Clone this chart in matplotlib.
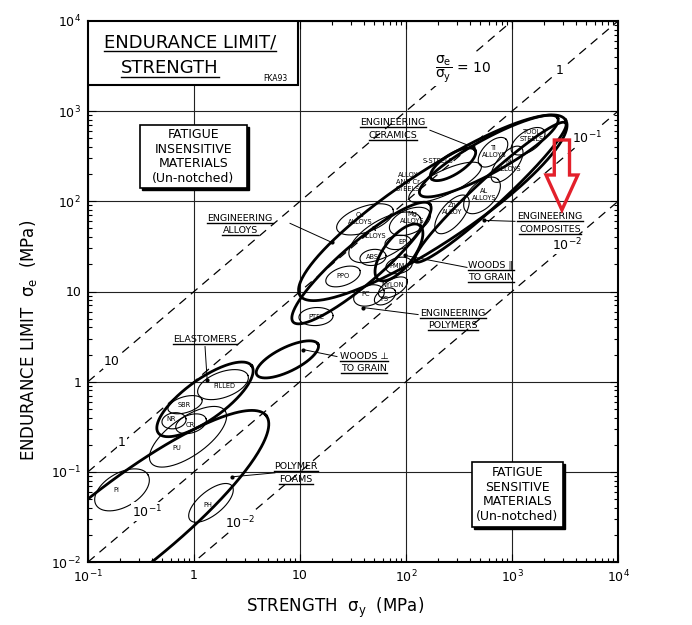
import numpy as np
import matplotlib
matplotlib.use('Agg')
import matplotlib.pyplot as plt
from matplotlib.lines import Line2D
from matplotlib.patches import Rectangle, Polygon
from matplotlib.ticker import FixedLocator, FixedFormatter, LogLocator, NullFormatter

plt.rcParams['font.family'] = ['DejaVu Sans']
plt.rcParams['mathtext.default'] = 'regular'

# axes
x_ticks = [0.1, 1, 10, 100, 1000, 10000]
x_tick_labels = ['$10^{-1}$', '1', '10', '$10^2$', '$10^3$', '$10^4$']
y_ticks = [0.01, 0.1, 1, 10, 100, 1000, 10000]
y_tick_labels = ['$10^{-2}$', '$10^{-1}$', '1', '10', '$10^2$', '$10^3$', '$10^4$']

# guide lines sigma_e / sigma_y = const
guide_ratios = [10, 1, 0.1, 0.01]
guide_text = ['10', '1', '$10^{-1}$', '$10^{-2}$']
guide_left_x = [0.168, 0.209, 0.36, 2.72]      # strength where left label sits
guide_right_x = [None, 2840, 5100, 3300]       # strength where right label sits
ratio_label_pos = (345, 2930)

# thick envelopes: major-axis ends (strength, endurance) and half width (decades)
env_names = ['alloys', 'ceramics', 'composites', 'polymers', 'woods_par',
             'woods_perp', 'elastomers', 'foams', 's_steels']
env_lo = [(10, 9), (135, 120), (122, 21.5), (8.6, 4.6), (54.5, 13.6),
          (3.9, 1.2), (0.46, 0.27), (0.0084, 0.0012), (172, 180)]
env_hi = [(3200, 800), (2700, 840), (3200, 740), (168, 93), (135, 54),
          (14.8, 2.6), (3.5, 1.5), (4.8, 0.42), (448, 369)]
env_half = [0.34, 0.16, 0.13, 0.19, 0.14, 0.113, 0.19, 0.42, 0.094]

# thin envelopes for single material groups
mat_names = ['PI', 'PH', 'PU', 'SBR', 'NR', 'CR', 'FILLED', 'PTFE', 'PPO', 'ABS',
             'EP', 'PMMA', 'NYLON', 'PC', 'PS', 'Cu', 'Al', 'Mg', 'Zn', 'Al cast',
             'alloy steels', 'Ti', 'Ni', 'tool steels']
mat_lo = [(0.119, 0.043), (0.916, 0.0293), (0.393, 0.126), (0.569, 0.489),
          (0.499, 0.35), (0.676, 0.30), (1.09, 0.735), (9.77, 5.14), (17.6, 12.6),
          (36.8, 22.7), (63.4, 33.3), (64.7, 18.0), (55.6, 9.03), (32.3, 7.94),
          (51, 7.55), (22.3, 48.9), (29.6, 23.9), (70.6, 47.6), (196, 45.2),
          (368, 77.4), (107, 105), (499, 251), (662, 167), (1000, 350)]
mat_hi = [(0.368, 0.0926), (2.28, 0.0699), (1.96, 0.476), (1.19, 0.631),
          (0.84, 0.388), (1.30, 0.388), (3.23, 1.17), (20.5, 5.41), (36.8, 17.1),
          (64.7, 25.1), (111, 36.9), (114, 21.0), (102, 13.6), (61.9, 10.3),
          (78.7, 10.3), (75.4, 81.5), (135.5, 66.4), (168, 75.4), (376, 113.6),
          (738, 175), (510, 251), (877, 489), (1217, 398), (2005, 615)]
mat_half = [0.16, 0.113, 0.18, 0.075, 0.075, 0.085, 0.12, 0.085, 0.085, 0.075,
            0.066, 0.075, 0.075, 0.094, 0.066, 0.12, 0.17, 0.113, 0.104, 0.12,
            0.113, 0.094, 0.094, 0.094]

# small labels inside the envelopes
small_text = [['S-STEELS'], ['ALLOY', 'AND Cr', 'STEELS'], ['TOOL', 'STEELS'],
              ['Ti', 'ALLOYS'], ['Ni', 'ALLOYS'], ['AL', 'ALLOYS'], ['Zn', 'ALLOY'],
              ['Mg', 'ALLOYS'], ['Al', 'ALLOYS'], ['Cu', 'ALLOYS'], ['EP'], ['ABS'],
              ['PMMA'], ['PPO'], ['NYLON'], ['PC'], ['PS'], ['PTFE'], ['FILLED'],
              ['SBR'], ['NR'], ['CR'], ['PU'], ['PI'], ['PH']]
small_x = [200, 104.5, 1545, 676, 937, 544, 272, 114, 49.9, 36.8, 91.6, 47.8,
           85.9, 25.5, 75.4, 42, 61.9, 14.2, 1.92, 0.805, 0.607, 0.916, 0.692,
           0.184, 1.355]
small_y = [278, 163, 541, 359, 251, 120, 83.6, 66.4, 45.2, 64.7, 35, 23.9,
           19.4, 14.7, 11.7, 9.5, 8.36, 5.27, 0.903, 0.555, 0.388, 0.333, 0.185,
           0.063, 0.043]

# class labels and their leader lines
class_text = [['ENGINEERING', 'CERAMICS'], ['ENGINEERING', 'ALLOYS'],
              ['ENGINEERING', 'COMPOSITES'], ['WOODS \u2225', 'TO GRAIN'],
              ['ENGINEERING', 'POLYMERS'], ['WOODS \u22a5', 'TO GRAIN'],
              ['ELASTOMERS'], ['POLYMER', 'FOAMS']]
class_x = [75.3, 2.72, 2280, 634, 277, 40.2, 1.27, 9.16]
class_y = [640, 55.5, 57, 16.7, 4.89, 1.63, 2.93, 0.0975]
leader_from = [(168, 615), (8.05, 57), (1067, 60), (376, 18.5), (130, 5.55),
               (22.3, 1.9), (1.27, 2.45), (5.8, 0.0975)]
leader_to = [(429, 398), (20, 35), (544, 61.5), (98, 25.1), (39.3, 6.64),
             (10.7, 2.27), (1.33, 1.05), (2.28, 0.088)]

fig = plt.figure(figsize=(6.92, 6.25), dpi=100)
ax = fig.add_axes([0.1272, 0.1008, 0.7659, 0.8656])
ax.set_xscale('log')
ax.set_yscale('log')
ax.set_xlim(0.1, 1e4)
ax.set_ylim(0.01, 1e4)

ax.xaxis.set_major_locator(FixedLocator(x_ticks))
ax.xaxis.set_major_formatter(FixedFormatter(x_tick_labels))
ax.yaxis.set_major_locator(FixedLocator(y_ticks))
ax.yaxis.set_major_formatter(FixedFormatter(y_tick_labels))
for axis in (ax.xaxis, ax.yaxis):
    axis.set_minor_locator(LogLocator(base=10, subs=np.arange(2, 10), numticks=20))
    axis.set_minor_formatter(NullFormatter())
ax.tick_params(which='both', direction='in', top=True, right=True, width=0.8,
               labelsize=9, pad=5)
ax.tick_params(which='major', length=6)
ax.tick_params(which='minor', length=3)
for s in ax.spines.values():
    s.set_linewidth(1.5)
ax.grid(True, which='major', color='#222222', lw=0.8)

ax.set_xlabel('STRENGTH  $\\sigma_y$  (MPa)', fontsize=12)
ax.xaxis.set_label_coords(0.466, -0.062)
ax.set_ylabel('ENDURANCE LIMIT  $\\sigma_e$  (MPa)', fontsize=12)
ax.yaxis.set_label_coords(-0.092, 0.41)

# dashed guide lines
xs = np.array([0.1, 1e4])
for r, lab, xl, xr in zip(guide_ratios, guide_text, guide_left_x, guide_right_x):
    ax.plot(xs, r * xs, color='black', lw=0.9, ls=(0, (7, 5)), zorder=2)
    for xp in (xl, xr):
        if xp is None:
            continue
        ax.text(xp, r * xp, lab, fontsize=9, ha='center', va='center', zorder=4,
                bbox=dict(boxstyle='square,pad=0.1', fc='white', ec='none'))
ax.text(*ratio_label_pos, r'$\dfrac{\sigma_e}{\sigma_y}$ = 10', fontsize=10,
        ha='center', va='center', zorder=4,
        bbox=dict(boxstyle='square,pad=0.1', fc='white', ec='none'))


def envelope(lo, hi, half, **kw):
    tr = ax.transData
    p1 = tr.transform(lo)
    p2 = tr.transform(hi)
    dec = tr.transform((10, 1))[0] - tr.transform((1, 1))[0]
    c = (p1 + p2) / 2
    a = np.hypot(*(p2 - p1)) / 2
    b = half * dec
    th = np.arctan2(p2[1] - p1[1], p2[0] - p1[0])
    t = np.linspace(0, 2 * np.pi, 300)
    px = c[0] + a * np.cos(t) * np.cos(th) - b * np.sin(t) * np.sin(th)
    py = c[1] + a * np.cos(t) * np.sin(th) + b * np.sin(t) * np.cos(th)
    pts = tr.inverted().transform(np.column_stack([px, py]))
    ax.plot(pts[:, 0], pts[:, 1], **kw)


for lo, hi, h in zip(env_lo, env_hi, env_half):
    envelope(lo, hi, h, color='black', lw=2.0, zorder=3)
for lo, hi, h in zip(mat_lo, mat_hi, mat_half):
    envelope(lo, hi, h, color='black', lw=0.8, zorder=3)

underlined = []


def block(lines, x, y, size, gap, underline=False, **kw):
    n = len(lines)
    for i, s in enumerate(lines):
        off = ((n - 1) / 2 - i) * size * gap
        t = ax.annotate(s, (x, y), xytext=(0, off), textcoords='offset points',
                        ha='center', va='center', fontsize=size, zorder=5, **kw)
        if underline:
            underlined.append(t)


for lines, x, y in zip(small_text, small_x, small_y):
    block(lines, x, y, 4.8, 1.05)
for lines, x, y in zip(class_text, class_x, class_y):
    block(lines, x, y, 6.8, 1.35, underline=True)
for p, q in zip(leader_from, leader_to):
    ax.plot([p[0], q[0]], [p[1], q[1]], color='black', lw=0.7, zorder=4)
    ax.plot(q[0], q[1], 'o', color='black', ms=2, zorder=4)

# title box
ax.add_patch(Rectangle((0, 0.8817), 0.3962, 0.1183, transform=ax.transAxes,
                       fc='white', ec='black', lw=1.5, zorder=6))
t1 = ax.text(0.192, 0.961, 'ENDURANCE LIMIT/', transform=ax.transAxes, fontsize=13,
             ha='center', va='center', zorder=7)
t2 = ax.text(0.155, 0.913, 'STRENGTH', transform=ax.transAxes, fontsize=13,
             ha='center', va='center', zorder=7)
underlined += [t1, t2]
ax.text(0.353, 0.893, 'FKA93', transform=ax.transAxes, fontsize=5.5,
        ha='center', va='center', zorder=7)

# fatigue boxes with drop shadow
boxes = [((0.098, 0.691, 0.202, 0.117), ['FATIGUE', 'INSENSITIVE', 'MATERIALS', '(Un-notched)']),
         ((0.7245, 0.0647, 0.1715, 0.1203), ['FATIGUE', 'SENSITIVE', 'MATERIALS', '(Un-notched)'])]
for (bx, by, bw, bh), lines in boxes:
    ax.add_patch(Rectangle((bx + 0.004, by - 0.004), bw, bh, transform=ax.transAxes,
                           fc='black', ec='black', lw=1, zorder=6))
    ax.add_patch(Rectangle((bx, by), bw, bh, transform=ax.transAxes,
                           fc='white', ec='black', lw=1.2, zorder=6))
    for i, s in enumerate(lines):
        ax.text(bx + bw / 2, by + bh / 2 + (1.5 - i) * 0.0275, s, transform=ax.transAxes,
                fontsize=9, ha='center', va='center', zorder=7)

# red hollow arrow (annotation on the source image)
arrow_x, arrow_top, arrow_neck, arrow_tip = 0.812, 0.776, 0.72, 0.664
arrow_shaft, arrow_head = 0.011, 0.023
arrow_pts = [(arrow_x - arrow_shaft, arrow_top), (arrow_x + arrow_shaft, arrow_top),
             (arrow_x + arrow_shaft, arrow_neck), (arrow_x + arrow_head, arrow_neck),
             (arrow_x, arrow_tip), (arrow_x - arrow_head, arrow_neck),
             (arrow_x - arrow_shaft, arrow_neck)]
fig.add_artist(Polygon(arrow_pts, closed=True, fill=False, ec='#e3202b', lw=2.4,
                       transform=fig.transFigure, zorder=10))

# underline the labels
fig.canvas.draw()
inv = fig.transFigure.inverted()
for t in underlined:
    bb = t.get_window_extent()
    (x0, y0), (x1, _) = inv.transform([(bb.x0, bb.y0), (bb.x1, bb.y0)])
    fig.add_artist(Line2D([x0, x1], [y0, y0], color='black', lw=1.0, zorder=8))

fig.savefig('out.png', dpi=100)
